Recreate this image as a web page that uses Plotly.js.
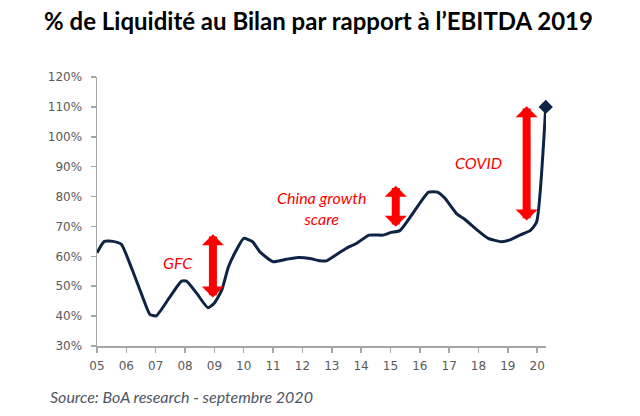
<!DOCTYPE html>
<html>
<head>
<meta charset="utf-8">
<script src="https://cdn.plot.ly/plotly-3.0.1.min.js"></script>
<style>html,body{margin:0;padding:0;background:#fff;}#chart{width:640px;height:416px;}</style>
</head>
<body>
<div id="chart"></div>
<script>
// Series: cash on balance sheet as % of 2019 EBITDA (decimal years)
const years = [2005.0, 2005.25, 2005.55, 2005.83, 2006.2, 2006.55, 2006.8, 2007.02, 2007.45, 2007.88,
  2008.05, 2008.4, 2008.78, 2009.0, 2009.25, 2009.48, 2009.75, 2010.0, 2010.3, 2010.55,
  2011.0, 2011.45, 2011.85, 2012.25, 2012.6, 2012.82, 2013.05, 2013.5, 2013.84, 2014.27,
  2014.75, 2015.03, 2015.32, 2015.7, 2016.05, 2016.3, 2016.6, 2016.85, 2017.25, 2017.53,
  2017.93, 2018.33, 2018.78, 2019.07, 2019.41, 2019.76, 2019.98, 2020.29];
const values = [61.2, 65.0, 65.0, 64.0, 55.5, 46.5, 40.6, 40.1, 45.9, 51.7,
  51.7, 47.6, 42.8, 44.4, 48.7, 56.5, 62.1, 66.0, 64.9, 61.5,
  58.2, 59.0, 59.6, 59.3, 58.5, 58.5, 59.9, 62.7, 64.3, 67.1,
  67.1, 68.0, 68.6, 73.5, 78.5, 81.5, 81.5, 79.5, 74.3, 72.4,
  69.0, 66.0, 64.9, 65.5, 67.1, 68.6, 71.5, 110.0];

// Axis ticks
const tickYears = [2005, 2006, 2007, 2008, 2009, 2010, 2011, 2012, 2013, 2014, 2015, 2016, 2017, 2018, 2019, 2020];
const tickLabels = ["05", "06", "07", "08", "09", "10", "11", "12", "13", "14", "15", "16", "17", "18", "19", "20"];

// Event arrows (double-headed) and their labels
const eventYears = [2008.95, 2015.18, 2019.64];
const eventLow = [45.7, 69.4, 71.5];
const eventHigh = [67.4, 83.6, 110.2];
const labelTexts = ["GFC", "China growth<br>scare", "COVID"];
const labelYears = [2007.76, 2012.66, 2018.01];
const labelValues = [57.8, 76.2, 91.3];

const red = "#ff0000";
const navy = "#0f2345";

const annotations = [];
for (let i = 0; i < eventYears.length; i++) {
  annotations.push({
    x: eventYears[i], y: eventHigh[i], ax: eventYears[i], ay: eventLow[i],
    xref: "x", yref: "y", axref: "x", ayref: "y",
    text: "", showarrow: true, arrowside: "end+start",
    arrowhead: 1, startarrowhead: 1, arrowsize: 0.46, startarrowsize: 0.46,
    arrowwidth: 8, arrowcolor: red, standoff: 0, startstandoff: 0
  });
  annotations.push({
    x: labelYears[i], y: labelValues[i], xref: "x", yref: "y",
    text: labelTexts[i], showarrow: false,
    font: {family: "Lato, 'Open Sans', sans-serif", size: 16, color: red, style: "italic"},
    xanchor: "center", yanchor: "middle"
  });
}
annotations.push({
  xref: "paper", yref: "paper", x: -0.11, y: -0.187,
  xanchor: "left", yanchor: "middle", showarrow: false,
  text: "Source: BoA research - septembre 2020",
  font: {family: "Lato, 'Open Sans', sans-serif", size: 16, color: "#4d5563", style: "italic"}
});

const traces = [
  {
    x: years, y: values, type: "scatter", mode: "lines",
    line: {color: navy, width: 3, shape: "spline", smoothing: 0.5},
    hoverinfo: "skip", cliponaxis: false
  },
  {
    x: [years[years.length - 1]], y: [values[values.length - 1]],
    type: "scatter", mode: "markers",
    marker: {symbol: "diamond", size: 11, color: navy},
    cliponaxis: false, hoverinfo: "skip"
  }
];

const layout = {
  width: 640, height: 416,
  margin: {l: 97, r: 94, t: 77, b: 70},
  paper_bgcolor: "#ffffff", plot_bgcolor: "#ffffff",
  showlegend: false,
  title: {
    text: "<b>% de Liquidité au Bilan par rapport à l’EBITDA 2019</b>",
    font: {family: "Lato, 'Open Sans', sans-serif", size: 24, color: "#000000"},
    x: 0.4977, xanchor: "center", xref: "container", y: 0.947, yanchor: "middle", yref: "container"
  },
  xaxis: {
    range: [2005, 2020.3], tickvals: tickYears, ticktext: tickLabels,
    showgrid: false, zeroline: false, showline: true, linecolor: "#a6a6a6", linewidth: 1.5,
    ticks: "outside", ticklen: 5, tickcolor: "#a6a6a6", tickwidth: 1.5,
    tickfont: {family: "'DejaVu Sans', sans-serif", size: 12, color: "#595959"},
    ticklabelstandoff: 3, fixedrange: true
  },
  yaxis: {
    range: [30, 120], dtick: 10, tick0: 30, ticksuffix: "%",
    showgrid: false, zeroline: false, showline: true, linecolor: "#a6a6a6", linewidth: 1.5,
    ticks: "outside", ticklen: 5, tickcolor: "#a6a6a6", tickwidth: 1.5,
    tickfont: {family: "'DejaVu Sans', sans-serif", size: 12, color: "#595959"},
    ticklabelstandoff: 6, fixedrange: true
  },
  annotations: annotations
};

Plotly.newPlot("chart", traces, layout, {staticPlot: true, displayModeBar: false});
</script>
</body>
</html>
